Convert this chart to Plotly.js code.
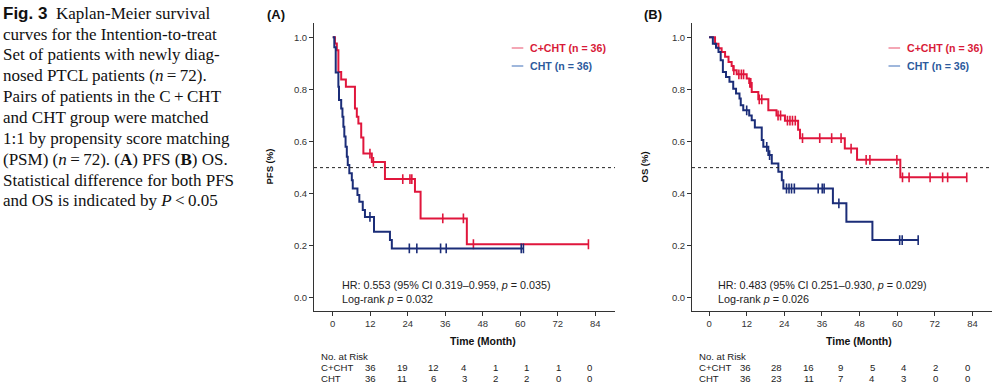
<!DOCTYPE html>
<html><head><meta charset="utf-8">
<script src="https://cdn.plot.ly/plotly-3.0.1.min.js"></script>
<style>html,body{margin:0;padding:0;background:#fff}#chart{width:995px;height:391px}</style>
</head><body><div id="chart"></div>
<script>
// ---------- DATA ----------
// (A) PFS
const pfsCchtTimes = [0, 0.7, 1.3, 1.8, 2.7, 4.2, 7.1, 7.7, 8.2, 9.1, 9.8, 12.5, 16.7, 26.3, 28.1, 42.9];
const pfsCchtSurv  = [1.0, 0.976, 0.95, 0.867, 0.838, 0.81, 0.727, 0.695, 0.669, 0.616, 0.554, 0.522, 0.456, 0.407, 0.305, 0.206];
const pfsCchtCensor = [11.9, 13.0, 22.4, 24.7, 25.3, 35.2, 41.8, 45.0, 81.8];
const pfsCchtEnd = 81.8;

const pfsChtTimes = [0, 0.5, 0.95, 1.8, 2.0, 2.7, 3.1, 3.4, 3.7, 4.1, 4.5, 4.8, 5.3, 6.1, 6.4, 7.9, 8.5, 9.6, 10.3, 13.2, 18.3, 18.9];
const pfsChtSurv  = [1.0, 0.962, 0.865, 0.81, 0.759, 0.727, 0.695, 0.657, 0.619, 0.58, 0.542, 0.51, 0.478, 0.452, 0.42, 0.395, 0.369, 0.337, 0.311, 0.254, 0.222, 0.19];
const pfsChtCensor = [11.9, 24.5, 26.9, 34.5, 36.3, 60.3, 61.0];
const pfsChtEnd = 61.0;

// (B) OS
const osCchtTimes = [0, 1.9, 3.0, 4.0, 5.1, 6.2, 7.2, 7.7, 8.8, 12.0, 12.8, 13.6, 15.7, 18.9, 21.5, 24.2, 28.4, 29.0, 43.3, 47.2, 61.0];
const osCchtSurv  = [1.0, 0.975, 0.958, 0.944, 0.925, 0.905, 0.89, 0.874, 0.858, 0.842, 0.825, 0.79, 0.762, 0.72, 0.70, 0.68, 0.645, 0.613, 0.573, 0.53, 0.463];
const osCchtCensor = [7.9, 9.5, 10.3, 11.0, 13.0, 13.3, 16.0, 16.8, 22.0, 22.8, 25.0, 25.8, 26.6, 27.5, 29.8, 35.3, 39.1, 42.1, 45.3, 50.1, 51.3, 59.9, 61.7, 63.8, 70.5, 74.5, 76.1, 82.2];
const osCchtEnd = 82.2;

const osChtTimes = [0, 1.2, 2.2, 3.0, 3.7, 4.4, 5.4, 6.5, 7.7, 8.6, 9.7, 10.1, 10.9, 12.8, 13.6, 14.6, 16.8, 17.3, 18.9, 20.0, 22.1, 23.2, 23.7, 39.5, 43.8, 52.1];
const osChtSurv  = [1.0, 0.975, 0.96, 0.944, 0.912, 0.867, 0.848, 0.829, 0.803, 0.784, 0.765, 0.739, 0.72, 0.70, 0.682, 0.654, 0.606, 0.58, 0.548, 0.516, 0.484, 0.452, 0.42, 0.363, 0.292, 0.222];
const osChtCensor = [12.0, 18.4, 19.3, 24.7, 25.5, 26.3, 27.2, 34.8, 36.1, 36.7, 41.4, 60.8, 61.6, 66.7];
const osChtEnd = 66.7;

// Numbers at risk
const riskLabels = ["C+CHT", "CHT"];
const riskA_Ccht = [36, 19, 12, 4, 1, 1, 1, 0];
const riskA_Cht  = [36, 11, 6, 3, 2, 2, 0, 0];
const riskB_Ccht = [36, 28, 16, 9, 5, 4, 2, 0];
const riskB_Cht  = [36, 23, 11, 7, 4, 3, 0, 0];

const timeTicks = [0, 12, 24, 36, 48, 60, 72, 84];
const survTicks = [0, 0.2, 0.4, 0.6, 0.8, 1.0];
const survTickText = ["0.0", "0.2", "0.4", "0.6", "0.8", "1.0"];

const legendNames = ["C+CHT (n = 36)", "CHT (n = 36)"];
const statsA = ["HR: 0.553 (95% CI 0.319–0.959, <i>p</i> = 0.035)", "Log-rank <i>p</i> = 0.032"];
const statsB = ["HR: 0.483 (95% CI 0.251–0.930, <i>p</i> = 0.029)", "Log-rank <i>p</i> = 0.026"];

const captionLines = [
  "<span style=\"font-family:Liberation Sans\"><b>Fig. 3</b></span>  Kaplan-Meier survival",
  "curves for the Intention-to-treat",
  "Set of patients with newly diag-",
  "nosed PTCL patients (<i>n</i>\u2009=\u200972).",
  "Pairs of patients in the C\u2009+\u2009CHT",
  "and CHT group were matched",
  "1:1 by propensity score matching",
  "(PSM) (<i>n</i>\u2009=\u200972). (<b>A</b>) PFS (<b>B</b>) OS.",
  "Statistical difference for both PFS",
  "and OS is indicated by <i>P</i>\u2009&lt;\u20090.05"
];

// ---------- STYLE ----------
const RED = "#e0163c", BLUE = "#1b2d78";
const RED_TXT = "#d81a38", BLUE_TXT = "#2c5a9c";
const W = 995, H = 391;
const px = x => x / W, py = y => 1 - y / H;
const SANS = "Liberation Sans, Arial, sans-serif";
const SERIF = "Liberation Serif, Times New Roman, serif";

function stepAt(times, surv, t) {
  let s = surv[0];
  for (let i = 0; i < times.length; i++) if (times[i] <= t) s = surv[i];
  return s;
}
function kmTraces(times, surv, censor, end, color, xa, ya) {
  return [
    {x: times.concat([end]), y: surv.concat([surv[surv.length - 1]]), type: "scatter", mode: "lines",
     line: {shape: "hv", color: color, width: 2}, xaxis: xa, yaxis: ya, hoverinfo: "skip"},
    {x: censor, y: censor.map(t => stepAt(times, surv, t)), type: "scatter", mode: "markers",
     marker: {symbol: "line-ns", size: 7, line: {color: color, width: 1.6}}, xaxis: xa, yaxis: ya, hoverinfo: "skip"}
  ];
}

const data = [].concat(
  kmTraces(pfsCchtTimes, pfsCchtSurv, pfsCchtCensor, pfsCchtEnd, RED, "x", "y"),
  kmTraces(pfsChtTimes, pfsChtSurv, pfsChtCensor, pfsChtEnd, BLUE, "x", "y"),
  kmTraces(osCchtTimes, osCchtSurv, osCchtCensor, osCchtEnd, RED, "x2", "y2"),
  kmTraces(osChtTimes, osChtSurv, osChtCensor, osChtEnd, BLUE, "x2", "y2")
);

const yDom = [py(311), py(22.7)];
function xAxis(dom, range) {
  return {domain: dom, range: range, tickvals: timeTicks, ticks: "outside", ticklen: 4, tickwidth: 1,
    tickcolor: "#333", showline: true, linecolor: "#333", linewidth: 1, showgrid: false, zeroline: false,
    tickfont: {family: SANS, size: 9.5, color: "#333"}, fixedrange: true};
}
function yAxis(anchor) {
  return {domain: yDom, range: [-0.05, 1.056], tickvals: survTicks, ticktext: survTickText, ticks: "outside",
    ticklen: 4, tickwidth: 1, tickcolor: "#333", showline: true, linecolor: "#333", linewidth: 1,
    showgrid: false, zeroline: false, anchor: anchor, tickfont: {family: SANS, size: 9.5, color: "#333"}, fixedrange: true};
}

const annotations = [];
const shapes = [];
function ann(text, x, y, opts) {
  annotations.push(Object.assign({text: text, x: px(x), y: py(y), xref: "paper", yref: "paper",
    showarrow: false, xanchor: "left", yanchor: "middle", font: {family: SANS, size: 10, color: "#222"}}, opts || {}));
}

// caption
captionLines.forEach((t, i) => ann(t, 1, 13.3 + i * 20.85, {font: {family: SERIF, size: 17, color: "#111"}}));

function panel(cfg) {
  ann("<b>" + cfg.label + "</b>", cfg.labelX, 15, {font: {family: SANS, size: 13, color: "#111"}});
  ann("<b>" + cfg.ytitle + "</b>", cfg.ytitleX, 167, {textangle: -90, xanchor: "center", font: {family: SANS, size: 9.5, color: "#111"}});
  ann("<b>Time (Month)</b>", cfg.xtitleX, 340.7, {xanchor: "center", font: {family: SANS, size: 10.5, color: "#111"}});
  ann(cfg.stats[0], cfg.statsX, 285, {font: {family: SANS, size: 10.8, color: "#222"}});
  ann(cfg.stats[1], cfg.statsX, 298.5, {font: {family: SANS, size: 10.8, color: "#222"}});
  // legend
  [[legendNames[0], RED_TXT, "#f08a9c", 48], [legendNames[1], BLUE_TXT, "#7f9fd0", 66]].forEach(l => {
    shapes.push({type: "line", xref: "paper", yref: "paper", x0: px(cfg.legX), x1: px(cfg.legX + 11.6),
      y0: py(l[3]), y1: py(l[3]), line: {color: l[2], width: 1.5}});
    ann("<b>" + l[0] + "</b>", cfg.legX + 16.5, l[3], {font: {family: SANS, size: 10.6, color: l[1]}});
  });
  // median reference line
  shapes.push({type: "line", xref: cfg.xa + " domain", yref: cfg.ya, x0: 0, x1: 1, y0: 0.5, y1: 0.5,
    line: {color: "#222", width: 1, dash: "dot"}});
  // risk table
  ann("No. at Risk", cfg.tabX, 356.7, {font: {family: SANS, size: 9.6, color: "#222"}});
  [cfg.risk[0], cfg.risk[1]].forEach((row, r) => {
    const yy = 367.7 + r * 10.6;
    ann(riskLabels[r], cfg.tabX, yy, {font: {family: SANS, size: 9.6, color: "#222"}});
    row.forEach((v, i) => ann(String(v), cfg.col0 + i * cfg.colStep, yy, {xanchor: "center", font: {family: SANS, size: 9.6, color: "#222"}}));
  });
}

panel({label: "(A)", labelX: 264.5, ytitle: "PFS (%)", ytitleX: 268.5, xtitleX: 482.7, stats: statsA, statsX: 339.5,
  legX: 511.7, xa: "x", ya: "y", tabX: 319, col0: 370.8, colStep: 31.2, risk: [riskA_Ccht, riskA_Cht]});
panel({label: "(B)", labelX: 642.3, ytitle: "OS (%)", ytitleX: 643.5, xtitleX: 859, stats: statsB, statsX: 716,
  legX: 888.5, xa: "x2", ya: "y2", tabX: 697, col0: 745, colStep: 31.75, risk: [riskB_Ccht, riskB_Cht]});

const layout = {
  width: W, height: H, margin: {l: 0, r: 0, t: 0, b: 0}, paper_bgcolor: "#fff", plot_bgcolor: "#fff",
  showlegend: false,
  xaxis: xAxis([px(314), px(615)], [-6, 90.3]),
  yaxis: yAxis("x"),
  xaxis2: xAxis([px(692), px(992)], [-5.45, 90.25]),
  yaxis2: yAxis("x2"),
  annotations: annotations, shapes: shapes
};
layout.xaxis.anchor = "y";
layout.xaxis2.anchor = "y2";

Plotly.newPlot("chart", data, layout, {displayModeBar: false, staticPlot: true});
</script>
</body></html>
